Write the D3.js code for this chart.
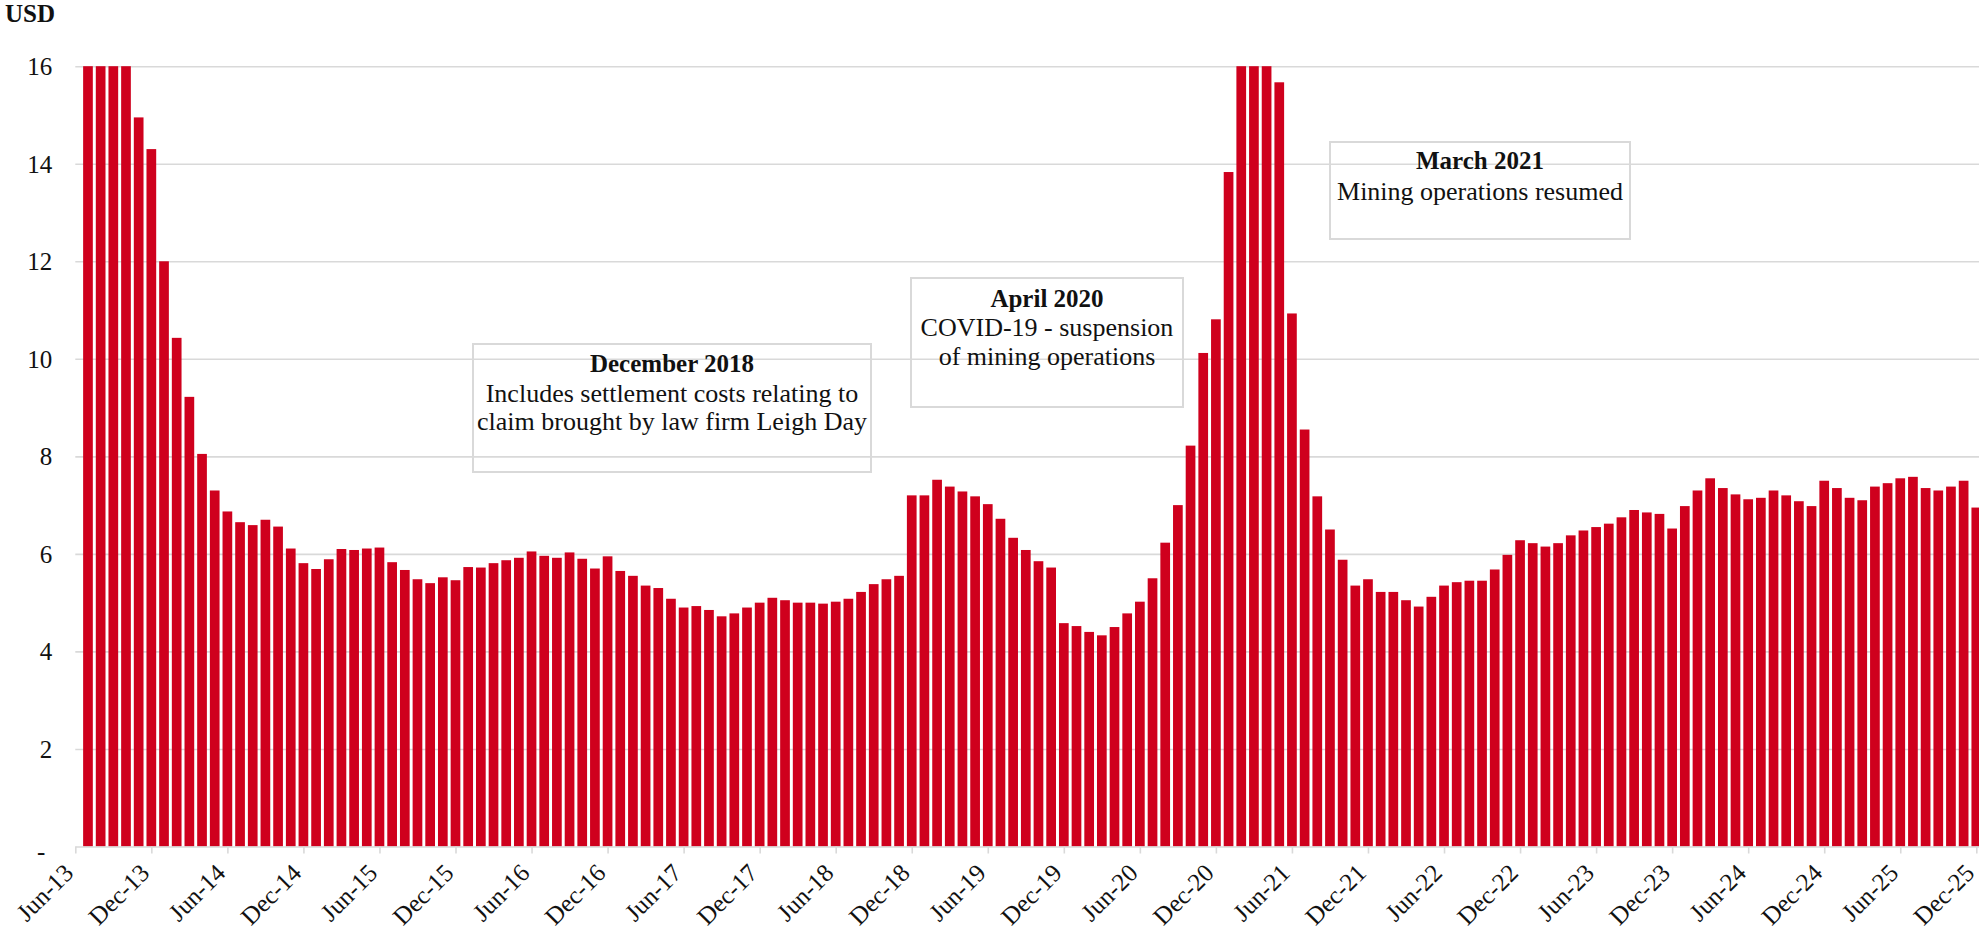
<!DOCTYPE html>
<html>
<head>
<meta charset="utf-8">
<script src="https://cdn.jsdelivr.net/npm/d3@7"></script>
<style>
  html, body { margin: 0; padding: 0; background: #fff; }
  svg { display: block; }
  text { font-family: "Liberation Serif", "Times New Roman", serif; fill: #111; }
</style>
</head>
<body>
<svg id="chart" width="1979" height="935"></svg>
<script>
// ---- DATA ----
// Monthly categories Jun-13 .. Dec-25 (151 months); first month has no bar
const firstMonth = new Date(2013, 5, 1);
const endMonth = new Date(2026, 0, 1);
// Values in USD, Jul-13 .. Dec-25 (values above 16 are clipped at the axis top)
const values = [
  19.6, 18.9, 17.8, 16.6, 14.95, 14.3, 12.0, 10.43, 9.22, 8.05, 7.30, 6.87,
  6.65, 6.59, 6.70, 6.56, 6.11, 5.81, 5.69, 5.89, 6.10, 6.08, 6.11, 6.13,
  5.83, 5.67, 5.48, 5.40, 5.52, 5.46, 5.73, 5.72, 5.81, 5.87, 5.92, 6.05,
  5.96, 5.92, 6.03, 5.90, 5.70, 5.95, 5.65, 5.55, 5.35, 5.30, 5.08, 4.90,
  4.93, 4.85, 4.72, 4.78, 4.90, 5.00, 5.10, 5.05, 5.00, 5.00, 4.98, 5.02,
  5.08, 5.22, 5.38, 5.48, 5.55, 7.20, 7.20, 7.52, 7.38, 7.28, 7.18, 7.02,
  6.72, 6.33, 6.08, 5.85, 5.72, 4.58, 4.52, 4.40, 4.33, 4.50, 4.78, 5.02,
  5.50, 6.23, 7.00, 8.22, 10.12, 10.81, 13.83, 17.2, 18.1, 16.9, 15.67, 10.93,
  8.55, 7.18, 6.50, 5.88, 5.35, 5.48, 5.22, 5.22, 5.05, 4.92, 5.12, 5.35,
  5.42, 5.45, 5.45, 5.68, 5.98, 6.28, 6.22, 6.15, 6.22, 6.38, 6.48, 6.55,
  6.62, 6.75, 6.90, 6.85, 6.82, 6.52, 6.98, 7.30, 7.55, 7.35, 7.22, 7.12,
  7.15, 7.30, 7.20, 7.08, 6.98, 7.50, 7.35, 7.15, 7.10, 7.38, 7.45, 7.55,
  7.58, 7.35, 7.30, 7.38, 7.50, 6.95
];
const yTicks = [0, 2, 4, 6, 8, 10, 12, 14, 16];
const xTickLabels = ["Jun-13","Dec-13","Jun-14","Dec-14","Jun-15","Dec-15","Jun-16","Dec-16",
  "Jun-17","Dec-17","Jun-18","Dec-18","Jun-19","Dec-19","Jun-20","Dec-20","Jun-21","Dec-21",
  "Jun-22","Dec-22","Jun-23","Dec-23","Jun-24","Dec-24","Jun-25","Dec-25"];
const yAxisTitle = "USD";
const noteTitles = ["December 2018", "April 2020", "March 2021"];
const noteLines = [
  ["Includes settlement costs relating to", "claim brought by law firm Leigh Day"],
  ["COVID-19 - suspension", "of mining operations"],
  ["Mining operations resumed"]
];

// ---- LAYOUT ----
const W = 1979, H = 935;
const plotLeft = 75.3, plotRight = 1979;
const firstCenter = 75.3, lastCenter = 1976.3;
const yBottom = 846.5, yTop = 66.2;
const barW = 9.7;
const noteBoxes = [
  {x: 473, y: 344, w: 398, h: 128, base: [371.5, 401.5, 430]},
  {x: 911, y: 278, w: 272, h: 129, base: [306.7, 335.7, 364.5]},
  {x: 1330, y: 142, w: 300, h: 97, base: [169.3, 199.5]}
];

const months = d3.timeMonth.range(firstMonth, endMonth);
const fmt = d3.timeFormat("%b-%y");
const categories = months.map(fmt);
const bars = categories.slice(1).map((c, i) => ({cat: c, v: values[i]}));

const svg = d3.select("#chart");

const x = d3.scalePoint().domain(categories).range([firstCenter, lastCenter]);
const y = d3.scaleLinear().domain([0, 16]).range([yBottom, yTop]).clamp(true);

// gridlines
const grid = svg.append("g").attr("transform", `translate(${plotLeft},0)`)
  .call(d3.axisLeft(y).tickValues(yTicks.filter(d => d > 0)).tickSize(-(plotRight - plotLeft)).tickFormat(""));
grid.select(".domain").remove();
grid.selectAll(".tick line").attr("stroke", "#d9d9d9").attr("stroke-width", 1.6);

// bars
svg.append("g").selectAll("rect").data(bars).join("rect")
  .attr("x", d => x(d.cat) - barW / 2)
  .attr("width", barW)
  .attr("y", d => y(d.v))
  .attr("height", d => y(0) - y(d.v))
  .attr("fill", "#cf001d");

// x axis
const xa = svg.append("g").attr("transform", `translate(0,${yBottom})`)
  .call(d3.axisBottom(x).tickValues(xTickLabels).tickSize(7).tickSizeOuter(0));
xa.select(".domain").attr("d", `M${plotLeft},0.5H${plotRight}`).attr("stroke", "#d9d9d9").attr("stroke-width", 1.6);
xa.selectAll(".tick line").attr("stroke", "#d9d9d9").attr("stroke-width", 1.6);
xa.selectAll(".tick text")
  .attr("x", 0).attr("y", 0).attr("dy", 0)
  .attr("transform", "translate(-1,28) rotate(-45)")
  .style("text-anchor", "end")
  .style("font-size", "25px")
  .attr("fill", "#111");

// y axis labels
const ya = svg.append("g").attr("transform", `translate(${plotLeft},0)`)
  .call(d3.axisLeft(y).tickValues(yTicks).tickSize(0).tickPadding(23)
    .tickFormat(d => d === 0 ? "-" : d3.format("d")(d)));
ya.select(".domain").remove();
ya.selectAll(".tick text")
  .style("font-size", "25px")
  .attr("dy", "0.34em")
  .attr("fill", "#111");
ya.selectAll(".tick").filter(d => d === 0).select("text").attr("x", -30).attr("dy", "0.5em");

// axis title
svg.append("text").attr("x", 5).attr("y", 22).text(yAxisTitle)
  .style("font-size", "25px").style("font-weight", "bold");

// annotations
noteBoxes.forEach((b, i) => {
  const g = svg.append("g");
  g.append("rect").attr("x", b.x).attr("y", b.y).attr("width", b.w).attr("height", b.h)
    .attr("fill", "none").attr("stroke", "#d9d9d9").attr("stroke-width", 2);
  const cx = b.x + b.w / 2;
  g.append("text").attr("x", cx).attr("y", b.base[0]).attr("text-anchor", "middle")
    .style("font-size", "25px").style("font-weight", "bold").text(noteTitles[i]);
  noteLines[i].forEach((t, j) => {
    g.append("text").attr("x", cx).attr("y", b.base[j + 1]).attr("text-anchor", "middle")
      .style("font-size", "26px").text(t);
  });
});
</script>
</body>
</html>
